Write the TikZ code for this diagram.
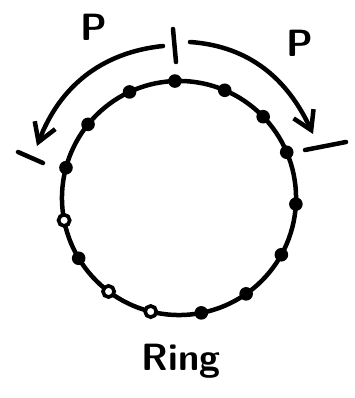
\documentclass[tikz,border=0pt]{standalone}
\usetikzlibrary{arrows.meta,positioning}
\tikzset{
    every node/.style={font=\sffamily\bfseries\fontsize{27}{30}\selectfont},
    ink/.style={line width=3.2pt,line cap=round,line join=round},
    ringline/.style={circle,draw,line width=3.2pt,minimum size=5.85cm,inner sep=0pt,outer sep=0pt},
    bead/.style={circle,fill,minimum size=3.4mm,inner sep=0pt},
    hollowbead/.style={circle,draw,fill=white,line width=2.6pt,minimum size=2.8mm,inner sep=0pt},
    hop/.style={ink,-{Straight Barb[length=4.5mm,width=5.5mm]}}
}
\begin{document}
\begin{tikzpicture}[x=0.025cm,y=0.025cm]
\useasboundingbox (0,0) rectangle (354,-398);
% the ring and its beads
\node[ringline] (ring) at (179,-198) {};
\foreach \a in {92,115,141,165,211,281,305,331,357,23,44,67}{
    \node[bead] (bead\a) at (ring.\a) {};
}
\foreach \a in {191,233,256}{
    \node[hollowbead] (bead\a) at (ring.\a) {};
}
\node[anchor=base] (ringname) at (181,-370) {Ring};
% marks and hops
\coordinate (topup) at (173,-29);
\coordinate (topdown) at (176,-62);
\coordinate (leftup) at (18,-152);
\coordinate (leftdown) at (43,-163);
\coordinate (rightin) at (305,-150);
\coordinate (rightout) at (346,-142);
\draw[ink] (topup) -- (topdown);
\draw[ink] (leftup) -- (leftdown);
\draw[ink] (rightin) -- (rightout);
\coordinate (lstart) at (163,-46);
\coordinate (ltip) at (37,-146);
\coordinate (rstart) at (190,-42);
\coordinate (rtip) at (313,-134);
\draw[hop] (lstart) to[out=186,in=69] (ltip);
\draw[hop] (rstart) to[out=-4,in=115] (rtip);
\node[anchor=base] (lp) at (94,-41) {P};
\node[anchor=base] (rp) at (300,-57) {P};
\end{tikzpicture}
\end{document}
